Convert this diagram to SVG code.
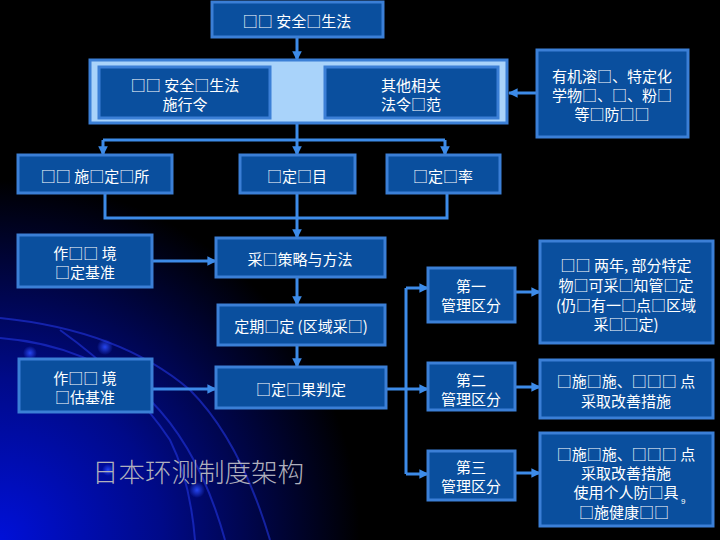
<svg xmlns="http://www.w3.org/2000/svg" width="720" height="540" viewBox="0 0 720 540">
<defs>
<radialGradient id="bg" cx="0" cy="540" r="360" gradientUnits="userSpaceOnUse">
<stop offset="0" stop-color="#0010d8"/>
<stop offset="0.45" stop-color="#000a88"/>
<stop offset="1" stop-color="#000000"/>
</radialGradient>
<radialGradient id="dot">
<stop offset="0" stop-color="#2a4cff" stop-opacity="0.9"/>
<stop offset="1" stop-color="#2a4cff" stop-opacity="0"/>
</radialGradient>
<marker id="ah" viewBox="0 0 10 10" refX="9" refY="5" markerWidth="3.2" markerHeight="3.2" orient="auto" markerUnits="strokeWidth">
<path d="M0,0 L10,5 L0,10 Z" fill="#3d8be8"/>
</marker>
</defs>
<style>
.box{fill:#0a4f9e;stroke:#3b7fd6;stroke-width:3}
.cont{fill:#a9d3fa;stroke:#3b7fd6;stroke-width:3}
.t{font-family:"Noto Sans CJK SC","Liberation Sans",sans-serif;font-size:15px;fill:#ffffff;text-anchor:middle;dominant-baseline:central}
.c{fill:none;stroke:#3d8be8;stroke-width:3}
.a{marker-end:url(#ah)}
.arc{fill:none;stroke:#2236e0;stroke-opacity:0.6;stroke-width:2}
</style>
<rect width="720" height="540" fill="#000"/>
<rect width="720" height="540" fill="url(#bg)"/>
<g id="bgdeco">
<path class="arc" d="M0,318 Q120,330 190,390 Q240,440 270,540"/>
<path class="arc" d="M0,338 Q90,345 150,400 Q200,450 225,540"/>
<path class="arc" d="M60,330 Q130,380 170,440 Q190,480 195,540"/>
<circle cx="105" cy="347" r="8" fill="url(#dot)"/>
<circle cx="30" cy="353" r="7" fill="url(#dot)"/>
<circle cx="197" cy="490" r="8" fill="url(#dot)"/>
<circle cx="108" cy="470" r="6" fill="url(#dot)"/>
</g>
<g id="connectors">
<path class="c a" d="M297,37 V60"/>
<path class="c a" d="M537,93 H509"/>
<path class="c" d="M297,123 V140 M103,140 H445"/>
<path class="c a" d="M103,140 V155"/>
<path class="c a" d="M297,140 V155"/>
<path class="c a" d="M445,140 V155"/>
<path class="c" d="M105,193 V218 H447 V193 M297,193 V218"/>
<path class="c a" d="M297,218 V238"/>
<path class="c a" d="M152,261 H216"/>
<path class="c a" d="M297,277 V305"/>
<path class="c a" d="M297,345 V367"/>
<path class="c a" d="M152,389 H216"/>
<path class="c" d="M386,389 H406 M406,288 V474"/>
<path class="c a" d="M406,288 H428"/>
<path class="c a" d="M406,389 H428"/>
<path class="c a" d="M406,474 H428"/>
<path class="c a" d="M515,292 H540"/>
<path class="c a" d="M515,387 H540"/>
<path class="c a" d="M515,473 H540"/>
</g>
<g id="n-top"><rect class="box" x="212" y="2" width="171" height="35"/><text class="t" x="297" y="20">□□ 安全□生法</text></g>
<g id="n-container"><rect class="cont" x="90" y="60" width="417" height="63"/></g>
<g id="n-enforce"><rect class="box" x="99" y="67" width="171" height="51"/><text class="t" x="185" y="84">□□ 安全□生法</text><text class="t" x="185" y="103">施行令</text></g>
<g id="n-other"><rect class="box" x="325" y="67" width="173" height="51"/><text class="t" x="411" y="84">其他相关</text><text class="t" x="411" y="103">法令□范</text></g>
<g id="n-organic"><rect class="box" x="537" y="50" width="151" height="87"/><text class="t" x="612" y="75">有机溶□、特定化</text><text class="t" x="612" y="94">学物□、□、粉□</text><text class="t" x="612" y="113">等□防□□</text></g>
<g id="n-place"><rect class="box" x="18" y="155" width="154" height="38"/><text class="t" x="95" y="175">□□ 施□定□所</text></g>
<g id="n-item"><rect class="box" x="240" y="155" width="115" height="38"/><text class="t" x="297" y="175">□定□目</text></g>
<g id="n-rate"><rect class="box" x="387" y="155" width="113" height="38"/><text class="t" x="443" y="175">□定□率</text></g>
<g id="n-std1"><rect class="box" x="18" y="235" width="134" height="52"/><text class="t" x="85" y="252">作□□ 境</text><text class="t" x="85" y="271">□定基准</text></g>
<g id="n-strategy"><rect class="box" x="216" y="238" width="169" height="39"/><text class="t" x="300" y="258">采□策略与方法</text></g>
<g id="n-periodic"><rect class="box" x="218" y="305" width="167" height="40"/><text class="t" x="301" y="325">定期□定 (区域采□)</text></g>
<g id="n-result"><rect class="box" x="216" y="367" width="170" height="41"/><text class="t" x="301" y="388">□定□果判定</text></g>
<g id="n-std2"><rect class="box" x="19" y="359" width="133" height="53"/><text class="t" x="85" y="377">作□□ 境</text><text class="t" x="85" y="396">□估基准</text></g>
<g id="n-c1"><rect class="box" x="428" y="268" width="87" height="54"/><text class="t" x="471" y="285">第一</text><text class="t" x="471" y="304">管理区分</text></g>
<g id="n-r1"><rect class="box" x="540" y="241" width="173" height="102"/><text class="t" x="626" y="264">□□ 两年, 部分特定</text><text class="t" x="626" y="284">物□可采□知管□定</text><text class="t" x="626" y="304">(仍□有一□点□区域</text><text class="t" x="626" y="323">采□□定)</text></g>
<g id="n-c2"><rect class="box" x="428" y="363" width="87" height="47"/><text class="t" x="471" y="379">第二</text><text class="t" x="471" y="398">管理区分</text></g>
<g id="n-r2"><rect class="box" x="540" y="360" width="173" height="58"/><text class="t" x="626" y="380">□施□施、□□□ 点</text><text class="t" x="626" y="400">采取改善措施</text></g>
<g id="n-c3"><rect class="box" x="428" y="451" width="87" height="49"/><text class="t" x="471" y="466">第三</text><text class="t" x="471" y="485">管理区分</text></g>
<g id="n-r3"><rect class="box" x="540" y="433" width="173" height="93"/><text class="t" x="626" y="453">□施□施、□□□ 点</text><text class="t" x="626" y="472">采取改善措施</text><text class="t" x="626" y="491">使用个人防□具</text><text class="t" x="624" y="511">□施健康□□</text></g>
<text x="681" y="504" font-family="Liberation Sans,sans-serif" font-size="8" fill="#ffffff">9</text>
<text x="92" y="470" font-family="Noto Sans CJK SC,Liberation Sans,sans-serif" font-size="26.5" fill="#b0b0bc" dominant-baseline="central" font-weight="300">日本环测制度架构</text>
</svg>
